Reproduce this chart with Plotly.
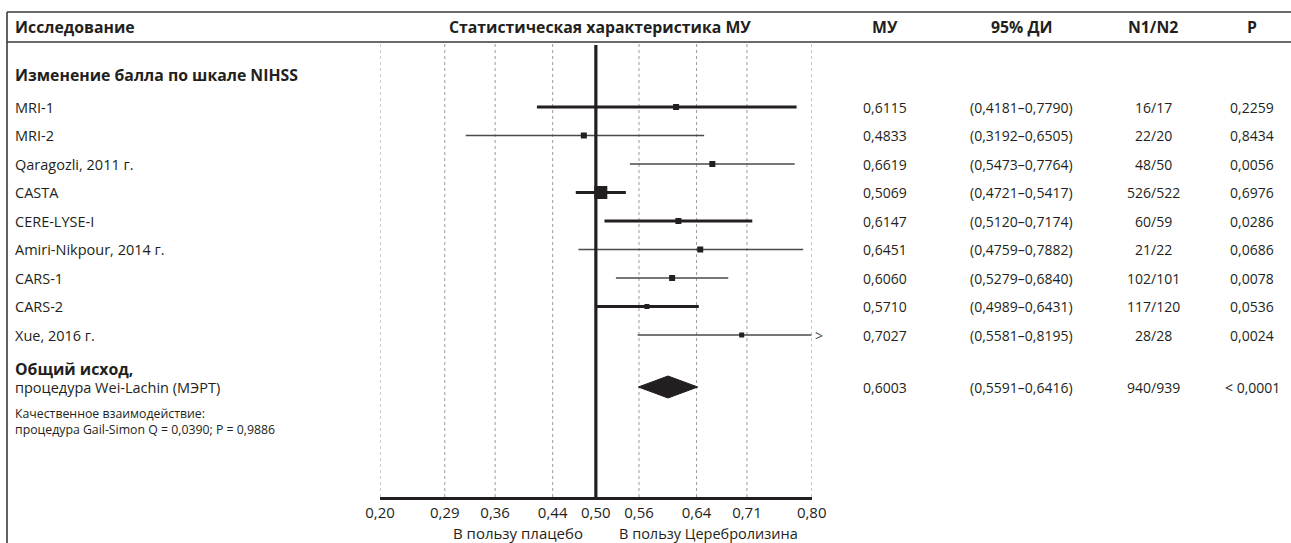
import plotly.graph_objects as go

# ---------------- data ----------------
studies = ["MRI-1", "MRI-2", "Qaragozli, 2011 г.", "CASTA", "CERE-LYSE-I",
           "Amiri-Nikpour, 2014 г.", "CARS-1", "CARS-2", "Xue, 2016 г."]
mu = [0.6115, 0.4833, 0.6619, 0.5069, 0.6147, 0.6451, 0.6060, 0.5710, 0.7027]
ci_lo = [0.4181, 0.3192, 0.5473, 0.4721, 0.5120, 0.4759, 0.5279, 0.4989, 0.5581]
ci_hi = [0.7790, 0.6505, 0.7764, 0.5417, 0.7174, 0.7882, 0.6840, 0.6431, 0.8195]
n1n2 = ["16/17", "22/20", "48/50", "526/522", "60/59", "21/22", "102/101", "117/120", "28/28"]
pvals = ["0,2259", "0,8434", "0,0056", "0,6976", "0,0286", "0,0686", "0,0078", "0,0536", "0,0024"]

overall_mu = 0.6003
overall_lo = 0.5591
overall_hi = 0.6416
overall_n = "940/939"
overall_p = "< 0,0001"

tick_vals = [0.20, 0.29, 0.36, 0.44, 0.50, 0.56, 0.64, 0.71, 0.80]
tick_text = ["0,20", "0,29", "0,36", "0,44", "0,50", "0,56", "0,64", "0,71", "0,80"]
x_min, x_max = 0.20, 0.80
null_value = 0.50

# ---------------- styles ----------------
W, H = 1291, 543
FONT = "Open Sans"
DARK = "#231f20"
GREY = "#4a4a4a"
thick = [True, False, False, True, True, False, False, True, False]
sq_size = [6, 6, 6, 13, 6, 6, 6, 5, 5]
LABEL_SIZE = 14.5
BOLD_SIZE = 15.8
NUM_SIZE = 14

ROW0_PX = 107.0   # pixel y of first study row
ROW_PX = 28.5     # pixel height of row
AXIS_PX = 497.0


def row_of(px):
    return (px - ROW0_PX) / ROW_PX


def px_x(px):
    return px / W


def px_y(py):
    return 1 - py / H


fig = go.Figure()
ann = []


def text(x, y, s, size=LABEL_SIZE, bold=False, xanchor="left", xref="paper", yref="paper",
         color=DARK, xshift=0):
    ann.append(dict(x=x, y=y, xref=xref, yref=yref, text=f"<b>{s}</b>" if bold else s,
                    showarrow=False, xanchor=xanchor, yanchor="middle", xshift=xshift,
                    align="left", font=dict(family=FONT, size=size, color=color)))


# confidence intervals + squares
for i, name in enumerate(studies):
    hi = min(ci_hi[i], x_max)
    color = DARK if thick[i] else GREY
    lw = 3 if thick[i] else 1.6
    fig.add_trace(go.Scatter(x=[ci_lo[i], hi], y=[i, i], mode="lines",
                             line=dict(color=color, width=lw),
                             hoverinfo="skip", showlegend=False))
    fig.add_trace(go.Scatter(x=[mu[i]], y=[i], mode="markers",
                             marker=dict(symbol="square", size=sq_size[i], color=DARK,
                                         line=dict(width=0)),
                             showlegend=False, name=name))
    if ci_hi[i] > x_max:
        text(x_max, i, ">", size=14, xref="x", yref="y", color=GREY, xshift=1)

# overall diamond
ov_row = row_of(387)
dh = 11 / ROW_PX
fig.add_trace(go.Scatter(x=[overall_lo, overall_mu, overall_hi, overall_mu, overall_lo],
                         y=[ov_row, ov_row - dh, ov_row, ov_row + dh, ov_row],
                         mode="lines", fill="toself", fillcolor=DARK,
                         line=dict(color=DARK, width=1), hoverinfo="skip",
                         showlegend=False))

shapes = []
top_grid = row_of(44)
bottom_grid = row_of(AXIS_PX)
for tv in tick_vals:
    if tv == null_value:
        continue
    shapes.append(dict(type="line", xref="x", yref="y", x0=tv, x1=tv,
                       y0=top_grid, y1=bottom_grid,
                       line=dict(color="#9a9a9a", width=1, dash="dot"), layer="below"))
# null line
shapes.append(dict(type="line", xref="x", yref="y", x0=null_value, x1=null_value,
                   y0=row_of(45), y1=row_of(501),
                   line=dict(color=DARK, width=3.2)))
# frame lines
LC = "#3a3a3a"
shapes.append(dict(type="line", xref="paper", yref="paper", x0=px_x(7), x1=1,
                   y0=px_y(12), y1=px_y(12), line=dict(color=LC, width=1.6)))
shapes.append(dict(type="line", xref="paper", yref="paper", x0=px_x(7), x1=1,
                   y0=px_y(42), y1=px_y(42), line=dict(color=LC, width=1.6)))
shapes.append(dict(type="line", xref="paper", yref="paper", x0=px_x(7), x1=px_x(7),
                   y0=px_y(12), y1=0, line=dict(color=LC, width=1.6)))

# header
hy = px_y(27)
text(px_x(13), hy, "Исследование", bold=True, size=BOLD_SIZE)
text(px_x(600), hy, "Статистическая характеристика МУ", bold=True, size=BOLD_SIZE,
     xanchor="center")
COL_MU, COL_CI, COL_N, COL_P = 885, 1021, 1153, 1252
text(px_x(COL_MU), hy, "МУ", bold=True, size=BOLD_SIZE, xanchor="center")
text(px_x(COL_CI), hy, "95% ДИ", bold=True, size=BOLD_SIZE, xanchor="center")
text(px_x(COL_N), hy, "N1/N2", bold=True, size=BOLD_SIZE, xanchor="center")
text(px_x(COL_P), hy, "P", bold=True, size=BOLD_SIZE, xanchor="center")

text(px_x(13), px_y(75), "Изменение балла по шкале NIHSS", bold=True, size=BOLD_SIZE)


def fmt(v):
    return f"{v:.4f}".replace(".", ",")


for i, name in enumerate(studies):
    text(px_x(13), i, name, yref="y")
    text(px_x(COL_MU), i, fmt(mu[i]), yref="y", xanchor="center", size=NUM_SIZE)
    text(px_x(COL_CI), i, f"({fmt(ci_lo[i])}–{fmt(ci_hi[i])})", yref="y",
         xanchor="center", size=NUM_SIZE)
    text(px_x(COL_N), i, n1n2[i], yref="y", xanchor="center", size=NUM_SIZE)
    text(px_x(COL_P), i, pvals[i], yref="y", xanchor="center", size=NUM_SIZE)

text(px_x(13), px_y(369), "Общий исход,", bold=True, size=BOLD_SIZE)
text(px_x(13), ov_row, "процедура Wei-Lachin (МЭРТ)", yref="y")
text(px_x(COL_MU), ov_row, fmt(overall_mu), yref="y", xanchor="center", size=NUM_SIZE)
text(px_x(COL_CI), ov_row, f"({fmt(overall_lo)}–{fmt(overall_hi)})", yref="y",
     xanchor="center", size=NUM_SIZE)
text(px_x(COL_N), ov_row, overall_n, yref="y", xanchor="center", size=NUM_SIZE)
text(px_x(COL_P), ov_row, overall_p, yref="y", xanchor="center", size=NUM_SIZE)

text(px_x(13), px_y(421.5),
     "Качественное взаимодействие:<br>процедура Gail-Simon Q = 0,0390; P = 0,9886",
     size=12.3)

text(px_x(518), px_y(533), "В пользу плацебо", xanchor="center", size=15)
text(px_x(708), px_y(533), "В пользу Церебролизина", xanchor="center", size=14.5)

fig.update_layout(
    width=W, height=H,
    margin=dict(l=0, r=0, t=0, b=0, pad=0, autoexpand=False),
    paper_bgcolor="white", plot_bgcolor="rgba(0,0,0,0)",
    shapes=shapes, annotations=ann, showlegend=False,
    xaxis=dict(domain=[380 / W, 811.7 / W], range=[x_min, x_max],
               tickvals=tick_vals, ticktext=tick_text, showgrid=False, zeroline=False,
               showline=True, linewidth=3, linecolor=DARK, ticks="",
               ticklabelstandoff=0, automargin=False,
               tickfont=dict(family=FONT, size=15, color=DARK), fixedrange=True),
    yaxis=dict(domain=[(H - AXIS_PX) / H, 1], range=[row_of(AXIS_PX), row_of(0)],
               visible=False, fixedrange=True, automargin=False),
)

fig.write_html("out.html")
